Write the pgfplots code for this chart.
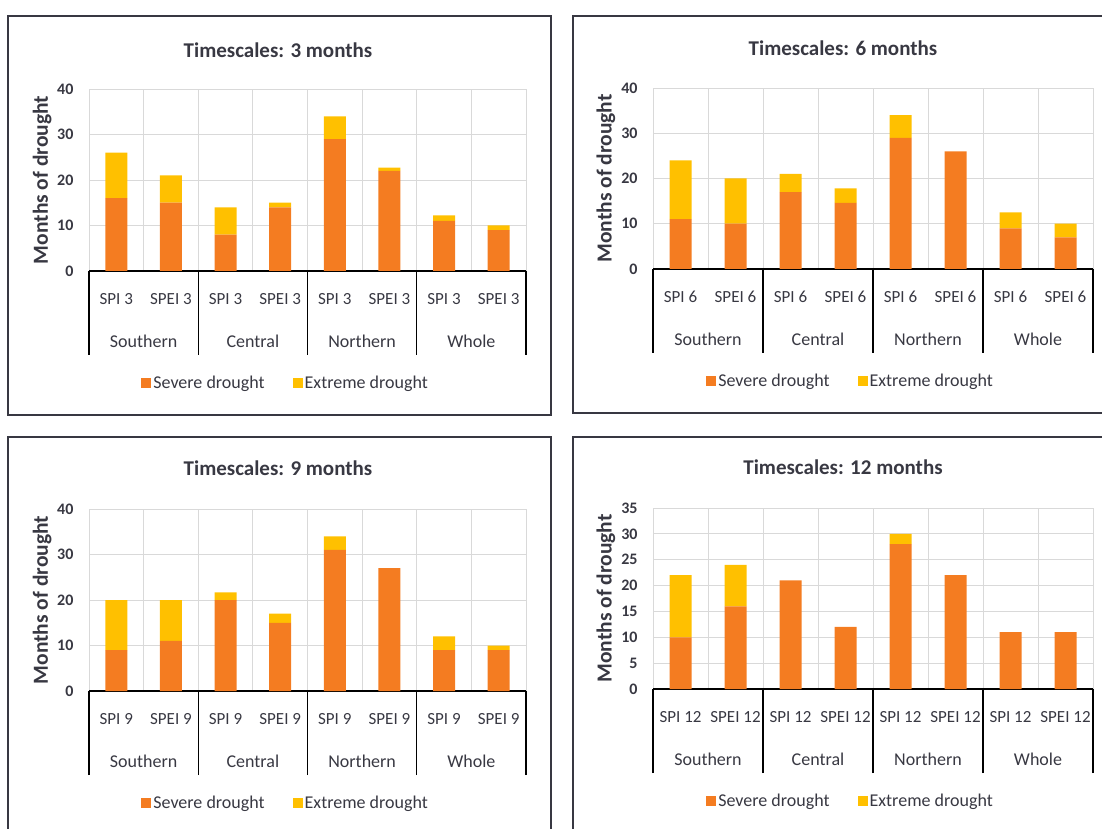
\documentclass[border=0pt]{standalone}
\usepackage{fontspec}
\setmainfont{Carlito}
\usepackage{pgfplots}
\usepackage{pgfplotstable}
\pgfplotsset{compat=1.18}

\definecolor{sev}{RGB}{244,124,33}
\definecolor{ext}{RGB}{255,192,0}
\definecolor{txt}{RGB}{56,56,66}
\definecolor{gridc}{RGB}{217,217,217}

\pgfplotstableread{
x sev ext
1 16 10
2 15 6
3 8 6
4 14 1
5 29 5
6 22 0.7
7 11 1.2
8 9 1
}\dataA
\pgfplotstableread{
x sev ext
1 11 13
2 10 10
3 17 4
4 14.6 3.2
5 29 5
6 26 0
7 9 3.5
8 7 3
}\dataB
\pgfplotstableread{
x sev ext
1 9 11
2 11 9
3 20 1.7
4 15 2
5 31 3
6 27 0
7 9 3
8 9 1
}\dataC
\pgfplotstableread{
x sev ext
1 10 12
2 16 8
3 21 0
4 12 0
5 28 2
6 22 0
7 11 0
8 11 0
}\dataD

\tikzset{grp/.style={font=\fontsize{18}{21}\selectfont, text=txt, yshift=-70pt},
  ttl/.style={font=\bfseries\fontsize{21}{25}\selectfont, text=txt}}

\pgfplotsset{
  panel/.style={
    scale only axis, anchor=south west,
    ybar stacked, bar width=22pt,
    xmin=0.5, xmax=8.5, ymin=0, clip=false,
    xtick={1,...,8},
    minor xtick={0.5,1.5,...,8.5},
    major tick length=0pt, minor tick length=0pt,
    xminorgrids, ymajorgrids,
    grid style={gridc, line width=0.8pt},
    minor grid style={gridc, line width=0.8pt},
    axis x line*=bottom, axis y line*=left,
    y axis line style={draw=none},
    x axis line style={black, line width=1.2pt, -},
    extra x ticks={0.5,2.5,4.5,6.5,8.5},
    extra x tick labels={},
    extra x tick style={grid=none, major tick length=84pt, tick align=outside,
      tick style={black, line width=1.1pt}},
    xticklabel style={anchor=center, yshift=-28pt, font=\fontsize{17}{19}\selectfont, text=txt},
    yticklabel style={font=\bfseries\fontsize{16}{18}\selectfont, text=txt, xshift=-12pt},
    /pgf/number format/assume math mode=true,
    ylabel={Months of drought},
    ylabel style={font=\bfseries\fontsize{21.5}{25}\selectfont, text=txt,
      at={(axis description cs:-0.107,0.5)}, anchor=center},
    legend columns=2,
    legend style={draw=none, fill=none, font=\fontsize{18}{21}\selectfont, text=txt,
      anchor=center, yshift=-112pt,
      /tikz/every odd column/.append style={column sep=0pt},
      /tikz/every even column/.append style={column sep=26pt}},
    legend image code/.code={\fill[##1, draw=none] (0pt,-5pt) rectangle (10pt,5pt);},
  },
}

\begin{document}
\begin{tikzpicture}[x=1pt,y=1pt]
\useasboundingbox (0,0) rectangle (1102,828);

% panel frames
\draw[line width=1.3pt, draw=txt] (8,812) rectangle (551,413);
\draw[line width=1.3pt, draw=txt] (573,812) rectangle (1130,415);
\draw[line width=1.3pt, draw=txt] (8,391) rectangle (551,-20);
\draw[line width=1.3pt, draw=txt] (573,391) rectangle (1130,-20);

% ---- Panel 1
\begin{axis}[panel, at={(89pt,557pt)}, width=437pt, height=182pt,
  ymax=40, ytick={0,10,...,40},
  xticklabels={SPI 3,SPEI 3,SPI 3,SPEI 3,SPI 3,SPEI 3,SPI 3,SPEI 3},
  legend style={at={(axis description cs:0.45,0)}}]
\addplot[fill=sev, draw=none] table[x=x,y=sev]{\dataA};
\addplot[fill=ext, draw=none] table[x=x,y=ext]{\dataA};
\legend{Severe drought, Extreme drought}
\node[grp] at (axis cs:1.5,0) {Southern};
\node[grp] at (axis cs:3.5,0) {Central};
\node[grp] at (axis cs:5.5,0) {Northern};
\node[grp] at (axis cs:7.5,0) {Whole};
\end{axis}
\node[ttl] at (278,778) {Timescales: 3 months};

% ---- Panel 2
\begin{axis}[panel, at={(653pt,559pt)}, width=440pt, height=181pt,
  ymax=40, ytick={0,10,...,40},
  xticklabels={SPI 6,SPEI 6,SPI 6,SPEI 6,SPI 6,SPEI 6,SPI 6,SPEI 6},
  legend style={at={(axis description cs:0.449,0)}}]
\addplot[fill=sev, draw=none] table[x=x,y=sev]{\dataB};
\addplot[fill=ext, draw=none] table[x=x,y=ext]{\dataB};
\legend{Severe drought, Extreme drought}
\node[grp] at (axis cs:1.5,0) {Southern};
\node[grp] at (axis cs:3.5,0) {Central};
\node[grp] at (axis cs:5.5,0) {Northern};
\node[grp] at (axis cs:7.5,0) {Whole};
\end{axis}
\node[ttl] at (843,780) {Timescales: 6 months};

% ---- Panel 3
\begin{axis}[panel, at={(89pt,137pt)}, width=437pt, height=182pt,
  ymax=40, ytick={0,10,...,40},
  xticklabels={SPI 9,SPEI 9,SPI 9,SPEI 9,SPI 9,SPEI 9,SPI 9,SPEI 9},
  legend style={at={(axis description cs:0.45,0)}}]
\addplot[fill=sev, draw=none] table[x=x,y=sev]{\dataC};
\addplot[fill=ext, draw=none] table[x=x,y=ext]{\dataC};
\legend{Severe drought, Extreme drought}
\node[grp] at (axis cs:1.5,0) {Southern};
\node[grp] at (axis cs:3.5,0) {Central};
\node[grp] at (axis cs:5.5,0) {Northern};
\node[grp] at (axis cs:7.5,0) {Whole};
\end{axis}
\node[ttl] at (278,360) {Timescales: 9 months};

% ---- Panel 4
\begin{axis}[panel, at={(653pt,139pt)}, width=440pt, height=181pt,
  ymax=35, ytick={0,5,...,35},
  xticklabels={SPI 12,SPEI 12,SPI 12,SPEI 12,SPI 12,SPEI 12,SPI 12,SPEI 12},
  legend style={at={(axis description cs:0.449,0)}}]
\addplot[fill=sev, draw=none] table[x=x,y=sev]{\dataD};
\addplot[fill=ext, draw=none] table[x=x,y=ext]{\dataD};
\legend{Severe drought, Extreme drought}
\node[grp] at (axis cs:1.5,0) {Southern};
\node[grp] at (axis cs:3.5,0) {Central};
\node[grp] at (axis cs:5.5,0) {Northern};
\node[grp] at (axis cs:7.5,0) {Whole};
\end{axis}
\node[ttl] at (843,361) {Timescales: 12 months};
\end{tikzpicture}
\end{document}
